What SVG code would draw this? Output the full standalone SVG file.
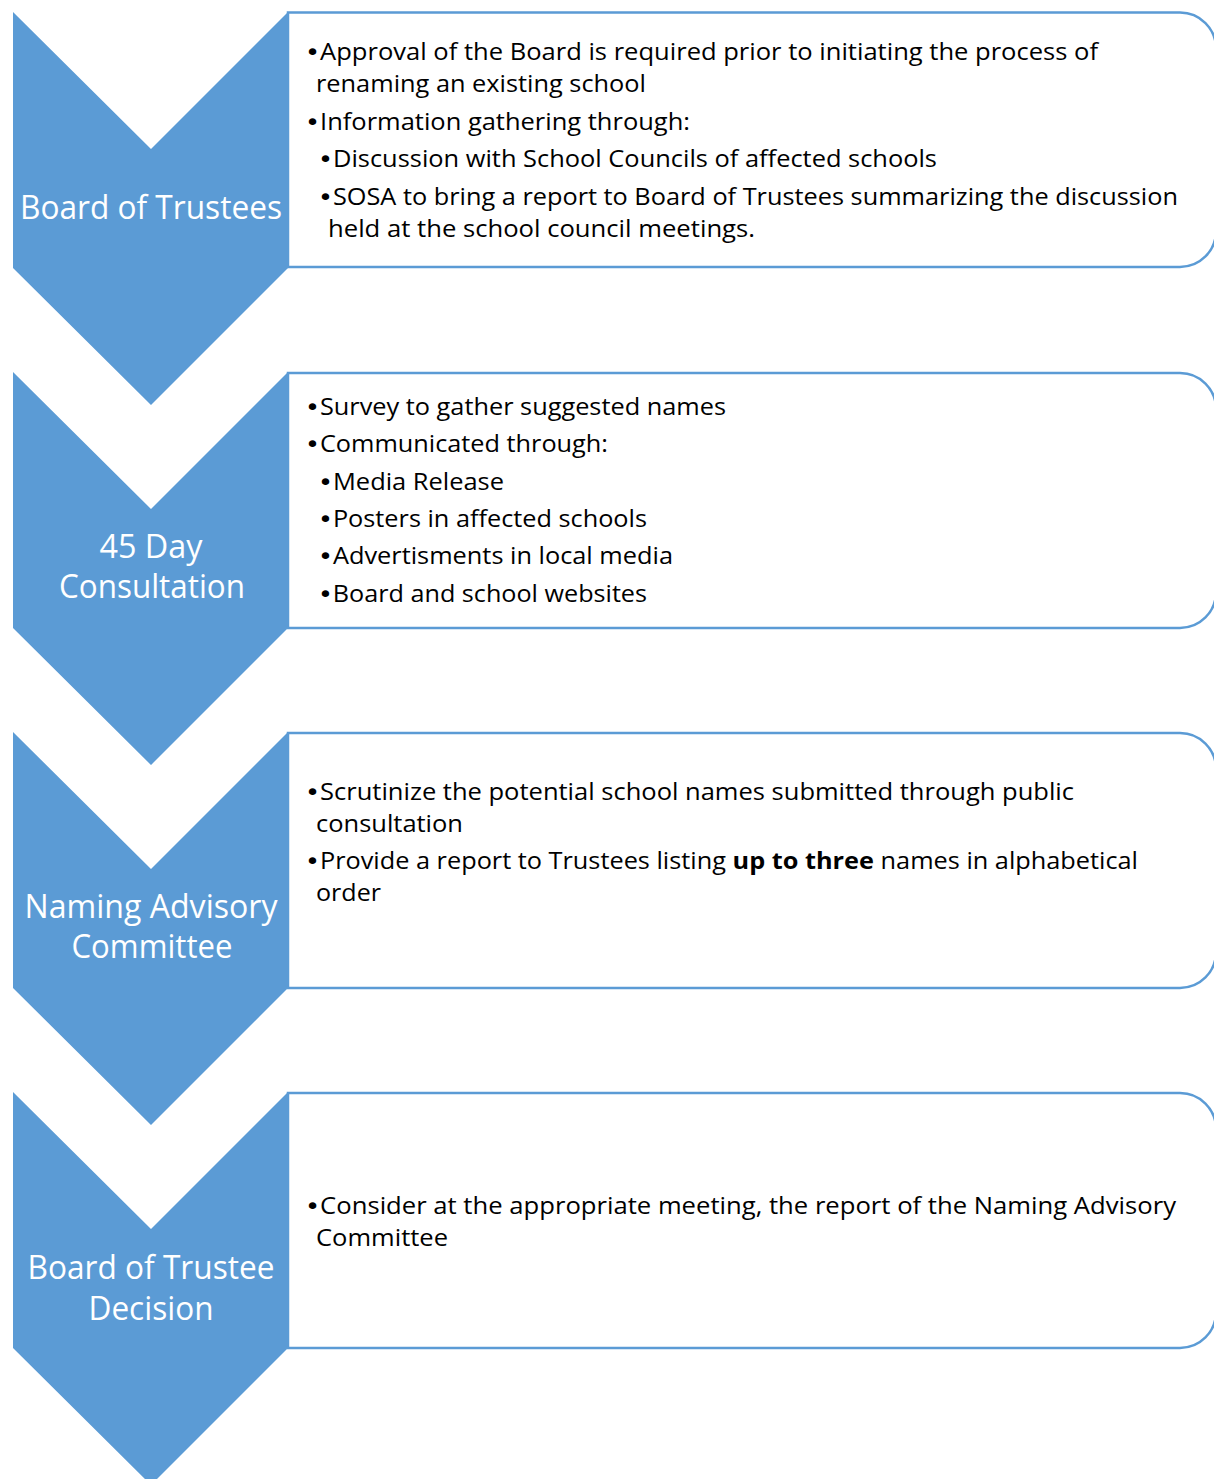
<svg xmlns="http://www.w3.org/2000/svg" width="1214" height="1479" viewBox="0 0 1214 1479">
  <style>
    .chev { fill: #5B9BD5; }
    .box { fill: #FFFFFF; stroke: #5B9BD5; stroke-width: 2.5; }
    .ct { fill: #FFFFFF; font-family: "Open Sans", "Noto Sans", "Liberation Sans", sans-serif; font-size: 32px; text-anchor: middle; }
    .bt { fill: #000000; font-family: "Open Sans", "Noto Sans", "Liberation Sans", sans-serif; font-size: 23px; }
    .bu { font-family: "DejaVu Sans", sans-serif; }
    .b { font-weight: bold; }
  </style>
  <rect width="1214" height="1479" fill="#FFFFFF"/>
  <g id="connectors"/>

  <g id="step1">
    <polygon class="chev" points="13,12 151,149 288,12 288,268 151,405 13,268"/>
    <text class="ct" x="151" y="219" textLength="262" lengthAdjust="spacingAndGlyphs">Board of Trustees</text>
    <path class="box" d="M288,12.5 H1180 A36,36 0 0 1 1216,48.5 V231 A36,36 0 0 1 1180,267 H288 Z"/>
    <text class="bt" x="305" y="60" textLength="793" lengthAdjust="spacingAndGlyphs"><tspan class="bu">•</tspan>Approval of the Board is required prior to initiating the process of</text>
    <text class="bt" x="316" y="92" textLength="330" lengthAdjust="spacingAndGlyphs">renaming an existing school</text>
    <text class="bt" x="305" y="130" textLength="385" lengthAdjust="spacingAndGlyphs"><tspan class="bu">•</tspan>Information gathering through:</text>
    <text class="bt" x="318" y="167" textLength="619" lengthAdjust="spacingAndGlyphs"><tspan class="bu">•</tspan>Discussion with School Councils of affected schools</text>
    <text class="bt" x="318" y="205" textLength="860" lengthAdjust="spacingAndGlyphs"><tspan class="bu">•</tspan>SOSA to bring a report to Board of Trustees summarizing the discussion</text>
    <text class="bt" x="328" y="237" textLength="427" lengthAdjust="spacingAndGlyphs">held at the school council meetings.</text>
  </g>

  <g id="step2">
    <polygon class="chev" points="13,372 151,509 288,372 288,628 151,765 13,628"/>
    <text class="ct" x="151" y="558" textLength="103" lengthAdjust="spacingAndGlyphs">45 Day</text>
    <text class="ct" x="152" y="598" textLength="186" lengthAdjust="spacingAndGlyphs">Consultation</text>
    <path class="box" d="M288,373 H1180 A36,36 0 0 1 1216,409 V592 A36,36 0 0 1 1180,628 H288 Z"/>
    <text class="bt" x="305" y="415" textLength="421" lengthAdjust="spacingAndGlyphs"><tspan class="bu">•</tspan>Survey to gather suggested names</text>
    <text class="bt" x="305" y="452" textLength="303" lengthAdjust="spacingAndGlyphs"><tspan class="bu">•</tspan>Communicated through:</text>
    <text class="bt" x="318" y="490" textLength="186" lengthAdjust="spacingAndGlyphs"><tspan class="bu">•</tspan>Media Release</text>
    <text class="bt" x="318" y="527" textLength="329" lengthAdjust="spacingAndGlyphs"><tspan class="bu">•</tspan>Posters in affected schools</text>
    <text class="bt" x="318" y="564" textLength="355" lengthAdjust="spacingAndGlyphs"><tspan class="bu">•</tspan>Advertisments in local media</text>
    <text class="bt" x="318" y="602" textLength="329" lengthAdjust="spacingAndGlyphs"><tspan class="bu">•</tspan>Board and school websites</text>
  </g>

  <g id="step3">
    <polygon class="chev" points="13,732 151,869 288,732 288,988 151,1125 13,988"/>
    <text class="ct" x="151" y="918" textLength="253" lengthAdjust="spacingAndGlyphs">Naming Advisory</text>
    <text class="ct" x="152" y="958" textLength="161" lengthAdjust="spacingAndGlyphs">Committee</text>
    <path class="box" d="M288,733 H1180 A36,36 0 0 1 1216,769 V952 A36,36 0 0 1 1180,988 H288 Z"/>
    <text class="bt" x="305" y="800" textLength="769" lengthAdjust="spacingAndGlyphs"><tspan class="bu">•</tspan>Scrutinize the potential school names submitted through public</text>
    <text class="bt" x="316" y="832" textLength="147" lengthAdjust="spacingAndGlyphs">consultation</text>
    <text class="bt" x="305" y="869" textLength="833" lengthAdjust="spacingAndGlyphs"><tspan class="bu">•</tspan>Provide a report to Trustees listing <tspan class="b">up to three</tspan> names in alphabetical</text>
    <text class="bt" x="316" y="901" textLength="65" lengthAdjust="spacingAndGlyphs">order</text>
  </g>

  <g id="step4">
    <polygon class="chev" points="13,1092 151,1229 288,1092 288,1348 151,1485 13,1348"/>
    <text class="ct" x="151" y="1279" textLength="247" lengthAdjust="spacingAndGlyphs">Board of Trustee</text>
    <text class="ct" x="151" y="1320" textLength="125" lengthAdjust="spacingAndGlyphs">Decision</text>
    <path class="box" d="M288,1093 H1180 A36,36 0 0 1 1216,1129 V1312 A36,36 0 0 1 1180,1348 H288 Z"/>
    <text class="bt" x="305" y="1214" textLength="871" lengthAdjust="spacingAndGlyphs"><tspan class="bu">•</tspan>Consider at the appropriate meeting, the report of the Naming Advisory</text>
    <text class="bt" x="316" y="1246" textLength="132" lengthAdjust="spacingAndGlyphs">Committee</text>
  </g>
</svg>
